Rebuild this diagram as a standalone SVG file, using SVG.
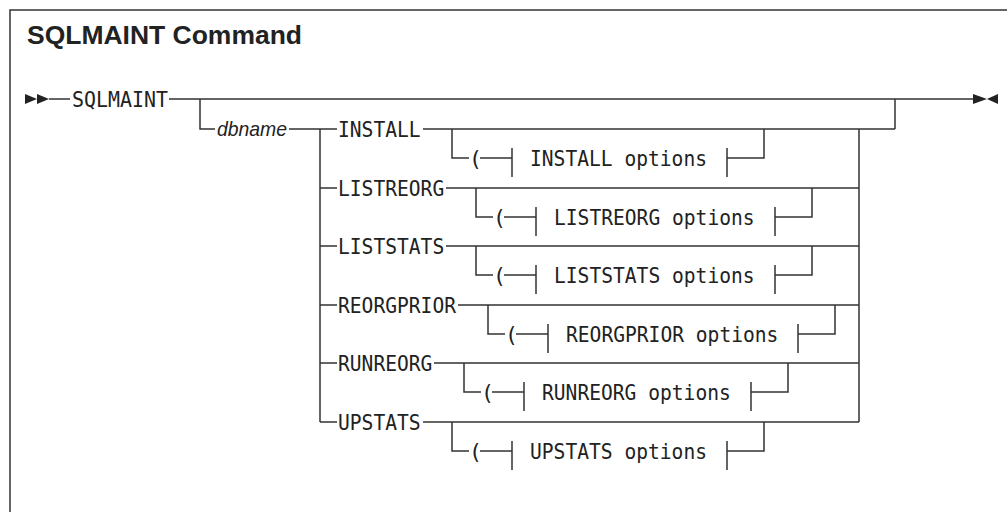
<svg xmlns="http://www.w3.org/2000/svg" width="1007" height="512" viewBox="0 0 1007 512">
<style>
.ln{stroke:#333;stroke-width:1.5;fill:none}
.t{font-family:"DejaVu Sans Mono","Liberation Mono",monospace;font-size:21.5px;fill:#222}
.it{font-family:"Liberation Sans",Arial,sans-serif;font-style:italic;font-size:21px;fill:#222}
.title{font-family:"Liberation Sans",Arial,sans-serif;font-weight:bold;font-size:25px;fill:#222}
.ah{fill:#222}
</style>
<rect width="1007" height="512" fill="#fff"/>
<g id="frame">
<path class="ln" d="M10,512 V10 H1007"/>
<text class="title" x="27" y="44" textLength="275" lengthAdjust="spacingAndGlyphs">SQLMAINT Command</text>
</g>
<g id="connectors">
<path class="ln" d="M49,99 H70 M169,99 H973 M200,99 V129 H215 M289,129 H337 M895,99 V129 M320,129 V422 M320,188 H337 M320,246 H337 M320,305 H337 M320,363 H337 M320,422 H337 M859,129 V422"/>
<path class="ln" d="M423,129 H895 M446,188 H859 M446,246 H859 M458,305 H859 M434,363 H859 M423,422 H859"/>
<path class="ln" d="M452,129 V158 H469 M480,158 H512 M512,148 V177 M727,148 V177 M727,158 H764 V129"/>
<path class="ln" d="M476,188 V217 H493 M504,217 H536 M536,207 V236 M775,207 V236 M775,217 H812 V188"/>
<path class="ln" d="M476,246 V275 H493 M504,275 H536 M536,265 V294 M775,265 V294 M775,275 H812 V246"/>
<path class="ln" d="M488,305 V334 H505 M516,334 H548 M548,324 V353 M798,324 V353 M798,334 H835 V305"/>
<path class="ln" d="M464,363 V392 H481 M492,392 H524 M524,382 V411 M751,382 V411 M751,392 H788 V363"/>
<path class="ln" d="M452,422 V451 H469 M480,451 H512 M512,441 V470 M727,441 V470 M727,451 H764 V422"/>
<polygon class="ah" points="25,94 37,99 25,104"/>
<polygon class="ah" points="37,94 49,99 37,104"/>
<polygon class="ah" points="973,94 987,99 973,104"/>
<polygon class="ah" points="998,94 987,99 998,104"/>
</g>
<g id="node-sqlmaint"><text class="t" x="72" y="107" textLength="96" lengthAdjust="spacingAndGlyphs">SQLMAINT</text></g>
<g id="node-dbname"><text class="it" x="217" y="136" textLength="70" lengthAdjust="spacingAndGlyphs">dbname</text></g>
<g id="node-install">
<text class="t" x="338" y="137" textLength="82.6" lengthAdjust="spacingAndGlyphs">INSTALL</text>
<text class="t" x="469" y="166">(</text>
<text class="t" x="530" y="166" textLength="177" lengthAdjust="spacingAndGlyphs">INSTALL options</text>
</g>
<g id="node-listreorg">
<text class="t" x="338" y="196" textLength="106.2" lengthAdjust="spacingAndGlyphs">LISTREORG</text>
<text class="t" x="493" y="225">(</text>
<text class="t" x="554" y="225" textLength="200.6" lengthAdjust="spacingAndGlyphs">LISTREORG options</text>
</g>
<g id="node-liststats">
<text class="t" x="338" y="254" textLength="106.2" lengthAdjust="spacingAndGlyphs">LISTSTATS</text>
<text class="t" x="493" y="283">(</text>
<text class="t" x="554" y="283" textLength="200.6" lengthAdjust="spacingAndGlyphs">LISTSTATS options</text>
</g>
<g id="node-reorgprior">
<text class="t" x="338" y="313" textLength="118" lengthAdjust="spacingAndGlyphs">REORGPRIOR</text>
<text class="t" x="505" y="342">(</text>
<text class="t" x="566" y="342" textLength="212.4" lengthAdjust="spacingAndGlyphs">REORGPRIOR options</text>
</g>
<g id="node-runreorg">
<text class="t" x="338" y="371" textLength="94.4" lengthAdjust="spacingAndGlyphs">RUNREORG</text>
<text class="t" x="481" y="400">(</text>
<text class="t" x="542" y="400" textLength="188.8" lengthAdjust="spacingAndGlyphs">RUNREORG options</text>
</g>
<g id="node-upstats">
<text class="t" x="338" y="430" textLength="82.6" lengthAdjust="spacingAndGlyphs">UPSTATS</text>
<text class="t" x="469" y="459">(</text>
<text class="t" x="530" y="459" textLength="177" lengthAdjust="spacingAndGlyphs">UPSTATS options</text>
</g>
</svg>
